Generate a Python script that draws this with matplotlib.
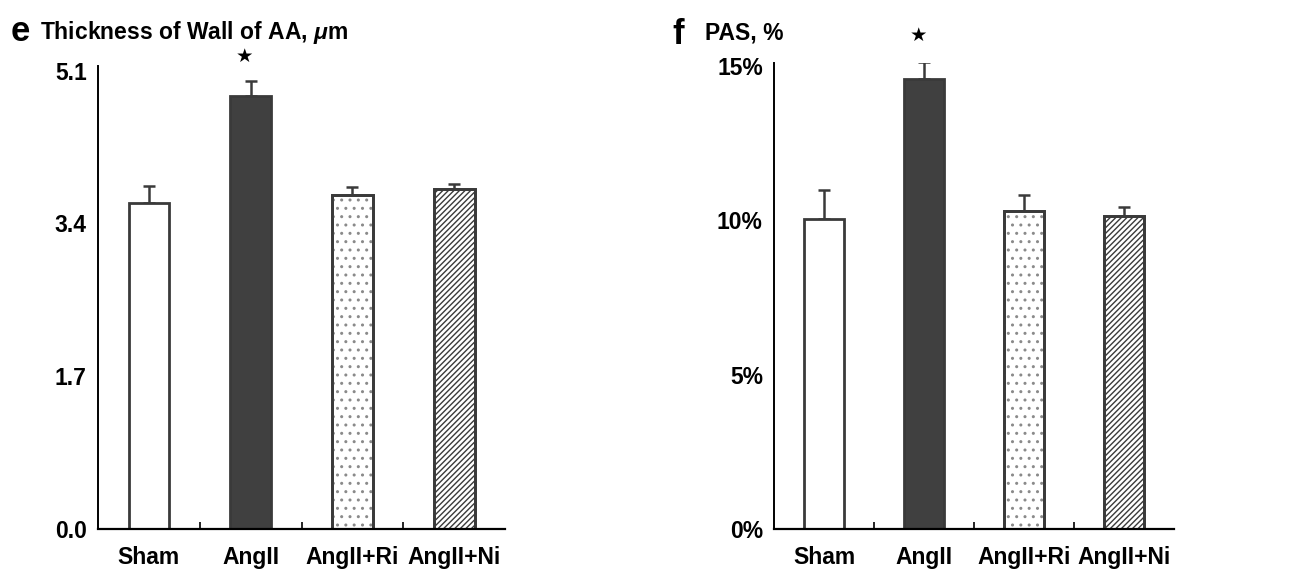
import numpy as np
import matplotlib
matplotlib.use("Agg")
import matplotlib.pyplot as plt

plt.rcParams['font.family'] = ['Liberation Sans', 'DejaVu Sans']
plt.rcParams['font.weight'] = 'bold'
plt.rcParams['mathtext.fontset'] = 'custom'
plt.rcParams['mathtext.it'] = 'Liberation Sans:italic:bold'
plt.rcParams['mathtext.rm'] = 'Liberation Sans:bold'
plt.rcParams['hatch.linewidth'] = 1.0

# data
groups = ["Sham", "AngII", "AngII+Ri", "AngII+Ni"]
wall_mean = [3.63, 4.82, 3.72, 3.78]
wall_err = [0.19, 0.16, 0.08, 0.06]
pas_mean = [10.04, 14.58, 10.30, 10.14]
pas_err = [0.94, 0.55, 0.52, 0.29]

colors = ["white", "#404040", "white", "white"]
hatches = [None, None, "..", "//////"]
hatch_cols = [None, None, "#8a8a8a", "#3a3a3a"]
edge = "#3a3a3a"
fs = 16.5

fig = plt.figure(figsize=(13.03, 5.73), dpi=100)
ax1 = fig.add_axes([0.0752, 0.0768, 0.3124, 0.8080])
ax2 = fig.add_axes([0.5940, 0.0768, 0.3070, 0.8132])

x = np.arange(len(groups))


def draw(ax, mean, err, ymax, yticks, ylabels):
    for i in range(len(groups)):
        ax.bar(x[i], mean[i], width=0.4, color=colors[i], edgecolor=edge,
               linewidth=2.0, zorder=2)
        if hatches[i]:
            # hatch layer in its own colour, outline drawn on top
            ax.bar(x[i], mean[i], width=0.4, color="none", edgecolor=hatch_cols[i],
                   linewidth=0, hatch=hatches[i], zorder=3)
            ax.bar(x[i], mean[i], width=0.4, color="none", edgecolor=edge,
                   linewidth=2.0, zorder=4)
    ax.errorbar(x, mean, yerr=[np.zeros(len(mean)), err], fmt="none",
                ecolor=edge, elinewidth=1.8, capsize=4, capthick=1.8, zorder=1)
    ax.set_xlim(-0.5, 3.5)
    ax.set_ylim(0, ymax)
    ax.spines['top'].set_visible(False)
    ax.spines['right'].set_visible(False)
    ax.spines['left'].set_linewidth(1.4)
    ax.spines['bottom'].set_linewidth(1.6)
    ax.spines['bottom'].set_zorder(5)
    ax.set_yticks(yticks)
    ax.set_yticklabels(ylabels, fontsize=fs, fontweight='bold')
    ax.tick_params(axis='y', length=0, pad=8)
    ax.set_xticks(x)
    ax.set_xticklabels(groups, fontsize=fs, fontweight='bold')
    ax.set_xticks([0.5, 1.5, 2.5], minor=True)
    ax.tick_params(axis='x', which='major', length=0, pad=12)
    ax.tick_params(axis='x', which='minor', direction='in', length=5, width=1.2)


draw(ax1, wall_mean, wall_err, 5.15, [0.0, 1.7, 3.4, 5.1], ["0.0", "1.7", "3.4", "5.1"])
draw(ax2, pas_mean, pas_err, 15.1, [0, 5, 10, 15], ["0%", "5%", "10%", "15%"])

# significance stars
ax1.text(x[1] - 0.06, wall_mean[1] + wall_err[1] + 0.17, "★", family="DejaVu Sans",
         fontsize=14, ha="center", va="bottom")
ax2.text(x[1] - 0.06, pas_mean[1] + pas_err[1] + 0.55, "★", family="DejaVu Sans",
         fontsize=14, ha="center", va="bottom")

# panel letters and titles
fig.text(0.008, 0.945, "e", fontsize=25, fontweight='bold', va="center")
fig.text(0.031, 0.943, r"Thickness of Wall of AA, $\mu$m", fontsize=fs, fontweight='bold', va="center")
fig.text(0.516, 0.940, "f", fontsize=25, fontweight='bold', va="center")
fig.text(0.541, 0.943, "PAS, %", fontsize=fs, fontweight='bold', va="center")

fig.savefig("out.png", dpi=100)
